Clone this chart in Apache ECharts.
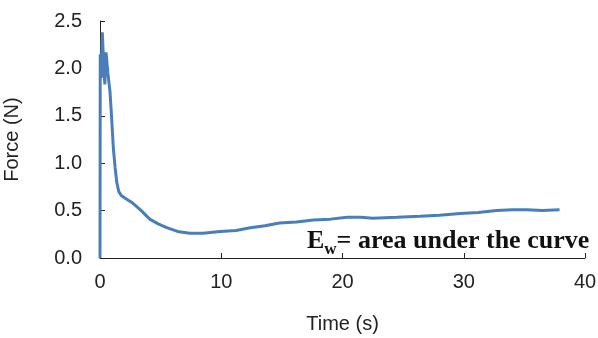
<!DOCTYPE html>
<html>
<head>
<meta charset="utf-8">
<script src="https://cdn.jsdelivr.net/npm/echarts@6/dist/echarts.min.js"></script>
<style>
  html, body { margin: 0; padding: 0; background: #fff; }
  #chart { width: 598px; height: 338px; }
</style>
</head>
<body>
<div id="chart"></div>
<script>
// temps (s) et force (N)
const timeVals = [0, 0.02, 0.1, 0.19, 0.3, 0.4, 0.5, 0.65, 0.82, 0.95, 1.1, 1.25, 1.38, 1.55, 1.75,
  2.2, 2.7, 3.4, 4.1, 4.8, 5.5, 6.4, 7.4, 8.5, 9.9, 11.2, 12.4, 13.6, 14.8, 16.2, 17.6, 19,
  20.4, 21.5, 22.5, 24.5, 26.4, 28, 29.7, 31.2, 32.7, 34, 35.2, 36.5, 37.9];
const forceVals = [0, 2.15, 1.9, 2.38, 2.05, 1.83, 2.17, 1.95, 1.76, 1.5, 1.16, 0.95, 0.8, 0.7, 0.66,
  0.62, 0.58, 0.5, 0.41, 0.36, 0.32, 0.28, 0.26, 0.26, 0.28, 0.29, 0.32, 0.34, 0.37, 0.38, 0.4, 0.41,
  0.43, 0.43, 0.42, 0.43, 0.44, 0.45, 0.47, 0.48, 0.5, 0.51, 0.51, 0.5, 0.51];

const xTicks = [0, 10, 20, 30, 40];
const yTicks = [0, 0.5, 1, 1.5, 2, 2.5];

const chart = echarts.init(document.getElementById("chart"));

chart.setOption({
  animation: false,
  title: {
    left: 302,
    top: 220,
    text: "{a|E}{b|w}{a|= area under the curve}",
    textStyle: {
      rich: {
        a: { fontFamily: "Liberation Serif", fontSize: 26, color: "#111" },
        b: { fontFamily: "Liberation Serif", fontSize: 17, color: "#111", padding: [16, 0, 0, 0] },
      },
    },
  },
  grid: { left: 100, right: 13, top: 21, bottom: 80, outerBoundsMode: "none" },
  xAxis: {
    type: "value",
    min: xTicks[0],
    max: xTicks[xTicks.length - 1],
    interval: 10,
    name: "Time (s)",
    nameLocation: "middle",
    nameGap: 56,
    nameTextStyle: { fontFamily: "Liberation Sans", fontSize: 20, color: "#222" },
    axisLabel: { fontFamily: "Liberation Sans", fontSize: 20, color: "#222", margin: 14 },
    axisLine: { show: true, onZero: false, lineStyle: { color: "#222", width: 1 } },
    axisTick: { show: true, inside: true, length: 5, lineStyle: { color: "#222", width: 1 } },
    splitLine: { show: false },
  },
  yAxis: {
    type: "value",
    min: yTicks[0],
    max: yTicks[yTicks.length - 1],
    interval: 0.5,
    name: "Force (N)",
    nameLocation: "middle",
    nameGap: 78,
    nameTextStyle: { fontFamily: "Liberation Sans", fontSize: 20, color: "#222" },
    axisLabel: {
      fontFamily: "Liberation Sans",
      fontSize: 20,
      color: "#222",
      margin: 18,
      formatter: (v) => v.toFixed(1),
    },
    axisLine: { show: true, lineStyle: { color: "#222", width: 1 } },
    axisTick: { show: true, inside: true, length: 5, lineStyle: { color: "#222", width: 1 } },
    splitLine: { show: false },
  },
  series: [
    {
      type: "line",
      data: timeVals.map((t, i) => [t, forceVals[i]]),
      showSymbol: false,
      lineStyle: { color: "#4a7ebb", width: 3 },
    },
  ],
});
</script>
</body>
</html>
